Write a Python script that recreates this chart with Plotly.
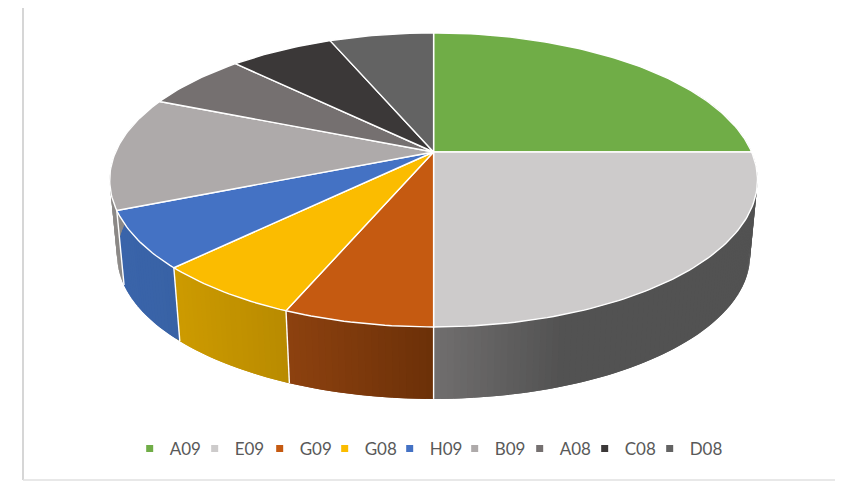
import math
import plotly.graph_objects as go

categories = ["A09", "E09", "G09", "G08", "H09", "B09", "A08", "C08", "D08"]
values = [4, 4, 1, 1, 1, 2, 1, 1, 1]

colors = ["#70ad47", "#cdcbcb", "#c55a11", "#fbbc00", "#4472c4", "#aeaaaa", "#757070", "#3b3838", "#636363"]
# wall gradient: (x_at_start, rgb_start, x_at_end, rgb_end), by horizontal position
wall = {
    "A09": ((760, (80, 80, 80)), (700, (80, 80, 80))),
    "E09": ((560, (82, 82, 82)), (433, (112, 110, 110))),
    "G09": ((433, (107, 48, 8)), (287, (140, 65, 15))),
    "G08": ((287, (184, 138, 0)), (176, (204, 154, 0))),
    "H09": ((176, (56, 98, 165)), (118, (58, 100, 170))),
    "B09": ((118, (140, 137, 135)), (100, (140, 137, 135))),
}

CX, AY = 433.6, 152.0
A, B, K = 141.7, 318.0, 0.19
S, BY = 0.977, 228.0
OFFSET = 8  # page margin of the browser body


def top(t):
    r = math.radians(t)
    w = 1 + K * math.cos(r)
    return CX + B * math.sin(r) / w, AY - A * math.cos(r) / w


def bottom(t):
    x, y = top(t)
    return CX + (x - CX) * S, BY + (y - AY) * S


def wall_color(name, x):
    (x0, c0), (x1, c1) = wall[name]
    f = min(1.0, max(0.0, (x - x0) / (x1 - x0)))
    return "rgb(%d,%d,%d)" % tuple(round(a + (b - a) * f) for a, b in zip(c0, c1))


total = sum(values)
spans = []
acc = 0.0
for v in values:
    spans.append((acc * 360 / total, (acc + v) * 360 / total))
    acc += v

fig = go.Figure()

# Side walls, as overlapping strips with a horizontal gradient
for name, (t0, t1) in zip(categories, spans):
    if name not in wall:
        continue
    a = max(t0, 60.0)
    b = min(t1, 285.0)
    if b <= a:
        continue
    n = max(1, int((b - a) / 1.0))
    for i in range(n):
        u, v = a + (b - a) * i / n, a + (b - a) * (i + 2) / n
        m = 6
        ts = [u + (v - u) * j / m for j in range(m + 1)]
        ring = [top(x) for x in ts] + [bottom(x) for x in reversed(ts)]
        c = wall_color(name, top((u + v) / 2)[0])
        fig.add_trace(go.Scatter(
            x=[p[0] for p in ring] + [ring[0][0]], y=[p[1] for p in ring] + [ring[0][1]],
            mode="lines", fill="toself", fillcolor=c, line=dict(width=0),
            hoverinfo="skip", showlegend=False))

# White dividers on the wall
for name, (t0, t1) in zip(categories, spans):
    if 170 < t0 < 260:
        p, q = top(t0), bottom(t0)
        fig.add_trace(go.Scatter(x=[p[0], q[0]], y=[p[1], q[1]], mode="lines",
                                 line=dict(color="white", width=1.4), hoverinfo="skip", showlegend=False))

# Top faces
for name, col, (t0, t1), v in zip(categories, colors, spans, values):
    n = max(2, int(t1 - t0))
    pts = [top(t0 + (t1 - t0) * i / n) for i in range(n + 1)]
    xs = [CX] + [p[0] for p in pts] + [CX]
    ys = [AY] + [p[1] for p in pts] + [AY]
    fig.add_trace(go.Scatter(x=xs, y=ys, mode="lines", fill="toself", fillcolor=col,
                             line=dict(color="white", width=1.4), name=name,
                             hovertemplate=f"{name}: {v}<extra></extra>", showlegend=False))

# Legend entries
for name, col in zip(categories, colors):
    fig.add_trace(go.Scatter(x=[None], y=[None], mode="markers", name=name,
                             marker=dict(symbol="square", size=7, color=col)))

# Chart frame
frame = "#c9c9c9"
for x0, y0, x1, y1, c in [(23, 4, 23, 480, frame), (23, 4, 843, 4, frame), (23, 480, 843, 480, "#e0e0e0")]:
    fig.add_shape(type="line", x0=x0, y0=y0, x1=x1, y1=y1, line=dict(color=c, width=1.5), layer="below")

fig.update_layout(
    width=843 - OFFSET, height=481 - OFFSET, margin=dict(l=0, r=0, t=0, b=0), autosize=False,
    paper_bgcolor="white", plot_bgcolor="white",
    xaxis=dict(range=[OFFSET, 843], visible=False, fixedrange=True),
    yaxis=dict(range=[481, OFFSET], visible=False, fixedrange=True),
    font=dict(family="Lato", size=17, color="#595959"),
    legend=dict(orientation="h", x=0.514, xanchor="center", y=0.068, yanchor="middle",
                entrywidth=35, entrywidthmode="pixels", itemwidth=30, indentation=-15,
                bgcolor="rgba(0,0,0,0)", font=dict(family="Lato", size=17, color="#595959")),
)
fig.write_html("out.html")
